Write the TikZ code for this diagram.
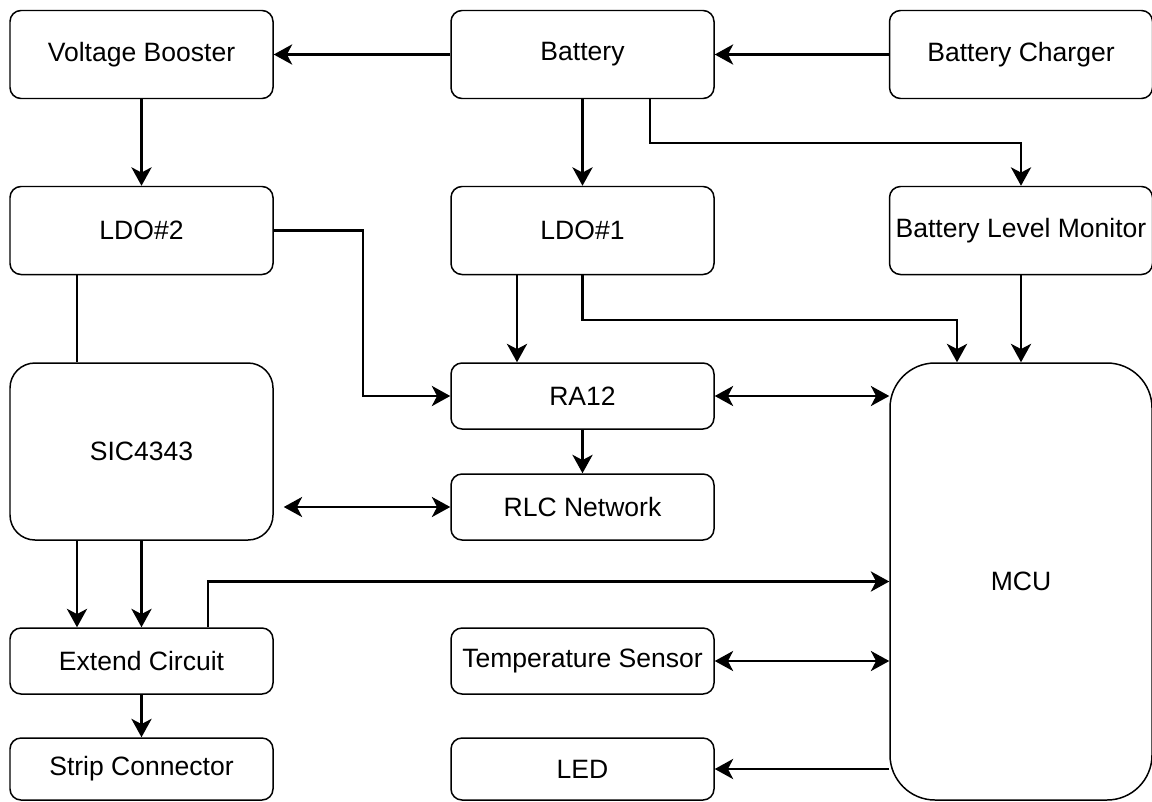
\documentclass[tikz,border=0pt]{standalone}
\usepackage{fontspec}
\setmainfont{Liberation Sans}
\usetikzlibrary{arrows.meta}
\begin{document}
\begin{tikzpicture}
\tikzstyle{block}=[draw, line width=0.85pt, rounded corners=0.22cm, minimum width=5.26cm, minimum height=1.76cm, inner sep=0pt, font=\fontsize{15.1}{18}\selectfont]
\tikzstyle{small}=[block, minimum height=1.32cm]
\tikzstyle{arr}=[line width=1.4pt, -{Stealth[length=10.5pt, width=11.5pt, inset=3pt]}]
\tikzstyle{darr}=[line width=0.9pt, {Stealth[length=10.5pt, width=11.5pt, inset=3pt]}-{Stealth[length=10.5pt, width=11.5pt, inset=3pt]}]
    \useasboundingbox (0,0) rectangle (23.04,-16.02);

    \node[block] (vb) at (2.83,-1.09) {Voltage Booster};
    \node[block] (bat) at (11.65,-1.09) {Battery};
    \node[block] (chg) at (20.42,-1.09) {Battery Charger};
    \node[block] (ldo2) at (2.83,-4.61) {LDO\#2};
    \node[block] (ldo1) at (11.65,-4.61) {LDO\#1};
    \node[block] (blm) at (20.42,-4.61) {Battery Level Monitor};
    \node[block, minimum height=3.54cm, rounded corners=0.5cm] (sic) at (2.83,-9.03) {SIC4343};
    \node[small] (ra) at (11.65,-7.92) {RA12};
    \node[small] (rlc) at (11.65,-10.14) {RLC Network};
    \node[block, minimum width=5.24cm, minimum height=8.74cm, rounded corners=0.9cm] (mcu) at (20.42,-11.63) {MCU};
    \node[small] (ext) at (2.83,-13.22) {Extend Circuit};
    \node[small] (temp) at (11.65,-13.22) {Temperature Sensor};
    \node[small, minimum height=1.24cm] (strip) at (2.83,-15.38) {Strip Connector};
    \node[small, minimum height=1.24cm] (led) at (11.65,-15.38) {LED};

    \draw[arr] (chg) -- (bat);
    \draw[arr] (bat) -- (vb);
    \draw[arr] (bat) -- (ldo1);
    \draw[arr] ([xshift=1.35cm]bat.south) -- ++(0,-0.88) -| (blm.north);

    \draw[arr] (vb) -- (ldo2);
    \draw[arr] (ldo2.east) -- ++(1.78,0) |- (ra.west);
    \draw[line width=1.4pt] ([xshift=-1.29cm]ldo2.south) -- ([xshift=-1.29cm]sic.north);

    \draw[arr] ([xshift=-1.31cm]ldo1.south) -- ([xshift=-1.31cm]ra.north);
    \draw[arr] (ldo1.south) -- ++(0,-0.9) -| ([xshift=-1.28cm]mcu.north);
    \draw[arr] (blm) -- (mcu);

    \draw[darr] (ra.east) -- (ra.east -| mcu.west);
    \draw[arr] (ra) -- (rlc);
    \draw[darr, shorten <=0.2cm] (rlc.west -| sic.east) -- (rlc.west);

    \draw[arr] ([xshift=-1.29cm]sic.south) -- ([xshift=-1.29cm]ext.north);
    \draw[arr] (sic) -- (ext);
    \draw[arr] ([xshift=1.33cm]ext.north) |- (mcu.west);
    \draw[arr] (ext) -- (strip);

    \draw[darr] (temp.east) -- (temp.east -| mcu.west);
    \draw[arr] (led.east -| mcu.west) -- (led.east);

\end{tikzpicture}
\end{document}
